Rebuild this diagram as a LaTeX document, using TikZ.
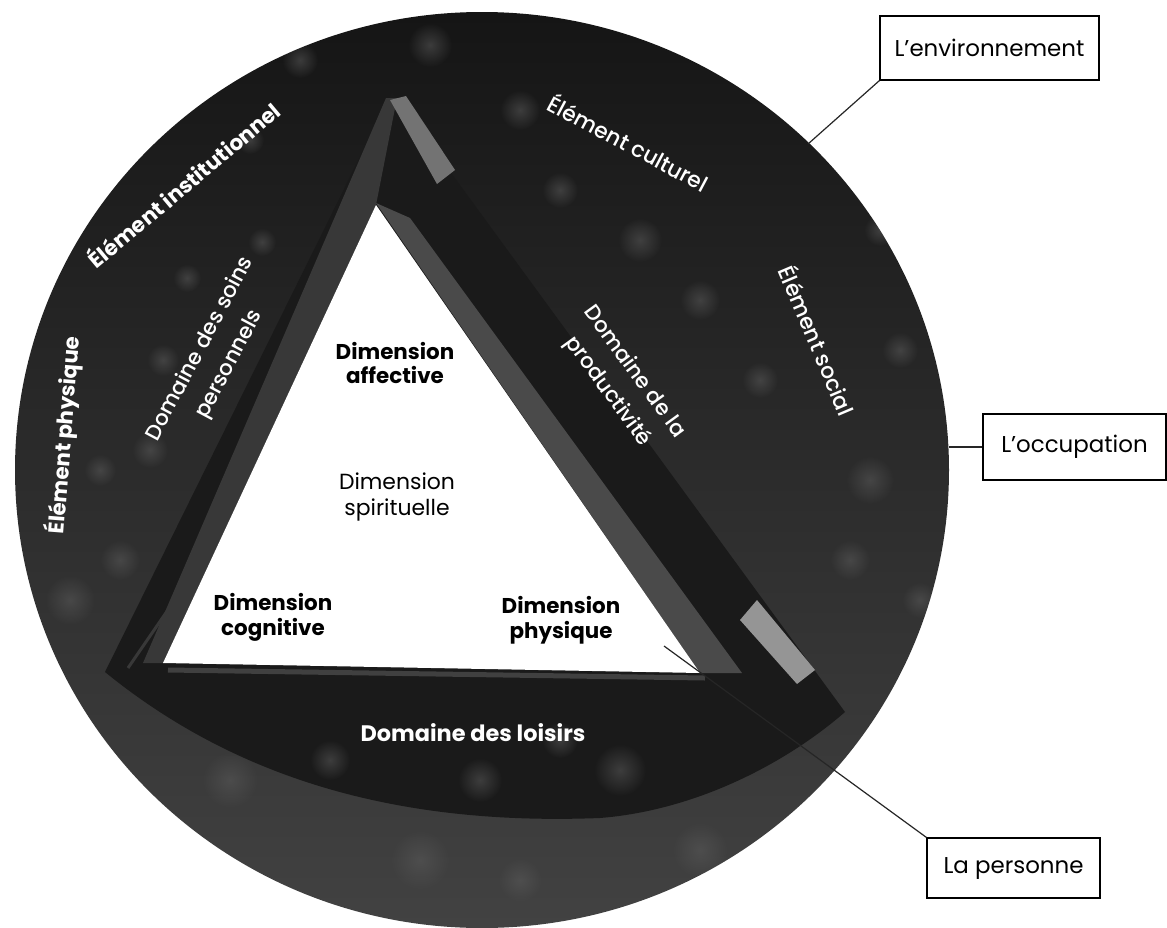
\documentclass[tikz,border=0pt]{standalone}
\usepackage{fontspec}
\setmainfont{Poppins}
\newfontfamily\medfont{Poppins Medium}
\usetikzlibrary{fadings}
\tikzfading[name=spotfade, inner color=transparent!45, outer color=transparent!100]
\definecolor{envdark}{HTML}{151515}
\definecolor{envmid}{HTML}{1c1c1c}
\definecolor{envlow}{HTML}{424242}
\definecolor{occdark}{HTML}{1a1a1a}
\definecolor{bevelL}{HTML}{383838}
\definecolor{bevelR}{HTML}{4a4a4a}
\definecolor{lightpatch}{HTML}{737373}
\definecolor{lightstripe}{HTML}{959595}
\definecolor{spotgray}{HTML}{5a5a5a}
\tikzset{
  outerlbl/.style={text=white, font=\bfseries\fontsize{21.5}{25}\selectfont, inner sep=0pt},
  outerreg/.style={text=white, font=\medfont\fontsize{22}{25}\selectfont, inner sep=0pt},
  domlbl/.style={text=white, font=\medfont\fontsize{21.5}{33}\selectfont, align=center, inner sep=0pt},
  dimbold/.style={text=black, font=\bfseries\fontsize{21.5}{25}\selectfont, align=center, inner sep=0pt},
  dimreg/.style={text=black, font=\fontsize{22}{26}\selectfont, align=center, inner sep=0pt},
  boxlbl/.style={draw=black, fill=white, line width=1.2bp, font=\fontsize{23}{26}\selectfont, inner sep=0pt},
  connector/.style={draw=black!85, line width=1.2bp},
  spot/.style={fill=spotgray, path fading=spotfade}
}
\begin{document}
\begin{tikzpicture}[x=1bp,y=-1bp]
\useasboundingbox (0,0) rectangle (1167,928);
\fill[white] (0,0) rectangle (1167,928);

% environment disc
\shade[top color=envdark, middle color=envmid, bottom color=envlow]
  (482,470) ellipse [x radius=467, y radius=458];

% occupation region
\fill[occdark] (392,92) -- (105,672)
  .. controls (250,790) and (420,825) .. (600,818)
  .. controls (700,810) and (790,760) .. (845,712) -- cycle;

% fuzzy spots (texture)
\begin{scope}
\clip (482,470) ellipse [x radius=467, y radius=458];
\foreach \px/\py/\r in {430/45/22, 262/242/14, 187/278/14, 163/360/16, 150/450/18, 120/560/20, 70/600/25,
  300/60/18, 520/110/20, 640/240/22, 700/300/20, 760/380/18, 900/350/18, 870/480/24, 850/560/20,
  560/190/18, 880/230/16, 920/600/18, 620/770/26, 420/860/30, 700/850/28, 230/780/28, 520/880/22,
  330/760/20, 560/740/18, 480/780/22, 100/470/16, 250/140/14}
  \fill[spot] (\px,\py) circle [radius=\r];
\end{scope}

% thin gray edge lines
\draw[bevelL, line width=3bp] (205,556) -- (128,668);
\draw[black!75, line width=5bp] (168,670) -- (705,678);

% bevels around the person triangle
\fill[bevelL] (143,663) -- (386,98) -- (397,98) -- (376,205) -- (163,663) -- cycle;
\fill[bevelR] (376,203) -- (700,673) -- (742,673) -- (410,218) -- cycle;
\fill[lightpatch] (390,100) -- (406,96) -- (455,170) -- (437,184) -- cycle;
\fill[lightstripe] (740,620) -- (757,600) -- (815,670) -- (797,684) -- cycle;

% person triangle
\fill[white] (376,205) -- (163,663) -- (700,673) -- cycle;

% labels on the dark ring
\node[outerlbl, rotate=40] (inst) at (183,184) {Élément institutionnel};
\node[outerreg, rotate=-28] (cult) at (629,142) {Élément culturel};
\node[outerreg, rotate=-67] (soc) at (818,340) {Élément social};
\node[outerlbl, rotate=85.5] (phys) at (64,435) {Élément physique};
\node[domlbl, rotate=62] (soins) at (215,357) {Domaine des soins\\personnels};
\node[domlbl, rotate=-54] (prod) at (621,382) {Domaine de la\\productivité};
\node[outerlbl, font=\bfseries\fontsize{22.5}{25}\selectfont] (lois) at (473,733) {Domaine des loisirs};

% labels in the triangle
\node[dimbold] (aff) at (395,363) {Dimension\\affective};
\node[dimreg] (spir) at (397,497) {Dimension\\spirituelle};
\node[dimbold] (cog) at (273,617) {Dimension\\cognitive};
\node[dimbold] (physq) at (561,620) {Dimension\\physique};

% callout boxes
\node[boxlbl, minimum width=219bp, minimum height=64bp] (env) at (989.5,48) {L’environnement};
\node[boxlbl, minimum width=183bp, minimum height=66bp] (occ) at (1074.5,447) {L’occupation};
\node[boxlbl, minimum width=173bp, minimum height=60bp] (pers) at (1013.5,868) {La personne};

\coordinate (envpt) at (808,144);
\coordinate (occpt) at (949,447);
\coordinate (perspt) at (664,646);
\draw[connector] (env.south west) -- (envpt);
\draw[connector] (occ.west) -- (occpt);
\draw[connector] (pers.north west) -- (perspt);
\end{tikzpicture}
\end{document}
